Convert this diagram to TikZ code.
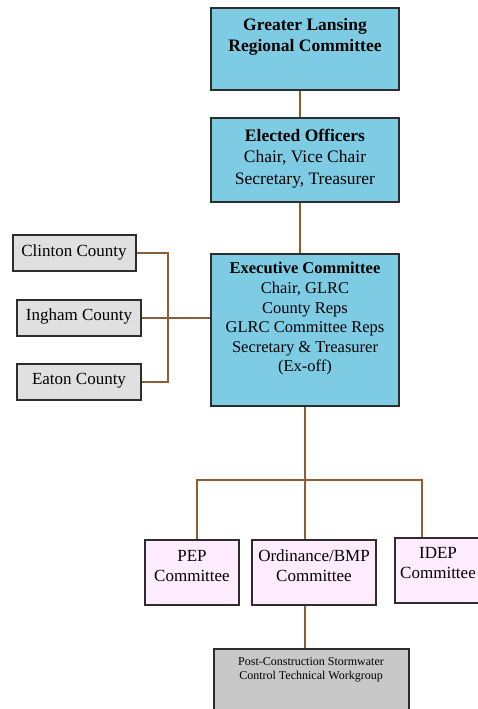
\documentclass[tikz,border=0pt]{standalone}
\usepackage{fontspec}
\setmainfont{Liberation Serif}
\usetikzlibrary{calc}
\definecolor{boxblue}{RGB}{126,204,228}
\definecolor{boxgray}{RGB}{224,224,224}
\definecolor{boxpink}{RGB}{255,236,255}
\definecolor{wggray}{RGB}{200,200,200}
\definecolor{linkbrown}{RGB}{139,94,51}
\definecolor{edgegray}{RGB}{45,45,45}
\tikzset{
  box/.style={draw=edgegray, line width=1.4pt, inner sep=0pt},
  link/.style={draw=linkbrown, line width=1.4pt},
  txt/.style={align=center, inner sep=0pt, text=black},
}
\begin{document}
\begin{tikzpicture}[x=1pt,y=-1pt]
\clip (0,0) rectangle (478,709);
\useasboundingbox (0,0) rectangle (478,709);
% boxes
\node[box, fill=boxblue, minimum width=188pt, minimum height=82pt] (glrc) at (305,49) {};
\node[box, fill=boxblue, minimum width=188pt, minimum height=84pt] (officers) at (305,160) {};
\node[box, fill=boxblue, minimum width=188pt, minimum height=152pt] (exec) at (305,330) {};
\node[box, fill=boxgray, minimum width=123pt, minimum height=36pt] (clinton) at (74.5,253) {};
\node[box, fill=boxgray, minimum width=124pt, minimum height=36pt] (ingham) at (79,318) {};
\node[box, fill=boxgray, minimum width=124pt, minimum height=36pt] (eaton) at (79,382) {};
\node[box, fill=boxpink, minimum width=94pt, minimum height=65pt] (pep) at (192,572.5) {};
\node[box, fill=boxpink, minimum width=124pt, minimum height=65pt] (ord) at (314,572.5) {};
\node[box, fill=boxpink, minimum width=86pt, minimum height=65pt] (idep) at (438,570.5) {};
\node[box, fill=wggray, minimum width=195pt, minimum height=80pt] (wg) at (311.5,689) {};
% texts
\node[txt, font=\fontsize{17.5}{21.5}\selectfont\bfseries] (glrct) at (305,37) {Greater Lansing\\Regional Committee};
\node[txt, font=\fontsize{17.5}{21.5}\selectfont] (officerst) at (305,158.5) {\textbf{Elected Officers}\\Chair, Vice Chair\\Secretary, Treasurer};
\node[txt, font=\fontsize{16.5}{19.6}\selectfont] (exect) at (305,319) {\textbf{Executive Committee}\\Chair, GLRC\\County Reps\\GLRC Committee Reps\\Secretary \& Treasurer\\(Ex-off)};
\node[txt, font=\fontsize{17}{20}\selectfont] (clintont) at (74,252) {Clinton County};
\node[txt, font=\fontsize{17}{20}\selectfont] (inghamt) at (79,316) {Ingham County};
\node[txt, font=\fontsize{17}{20}\selectfont] (eatont) at (79,381) {Eaton County};
\node[txt, font=\fontsize{17}{20}\selectfont] (pept) at (192,566) {PEP\\Committee};
\node[txt, font=\fontsize{17}{20}\selectfont] (ordt) at (314,566) {Ordinance/BMP\\Committee};
\node[txt, font=\fontsize{17}{20}\selectfont] (idept) at (438,563.5) {IDEP\\Committee};
\node[txt, font=\fontsize{12}{14}\selectfont] (wgt) at (311,670) {Post-Construction Stormwater\\Control Technical Workgroup};
% connectors
\draw[link] ($(glrc.south)+(-5,0)$) -- ($(officers.north)+(-5,0)$);
\draw[link] ($(officers.south)+(-5,0)$) -- ($(exec.north)+(-5,0)$);
\coordinate (cbus) at (168,253);
\draw[link] (clinton.east) -- (cbus) |- (eaton.east);
\draw[link] (ingham.east) -- (ingham.east -| exec.west);
\coordinate (hb) at (305,480);
\coordinate (hbL) at (197,480);
\coordinate (hbR) at (422,480);
\draw[link] (exec.south) -- (hb);
\draw[link] (hbL |- pep.north) -- (hbL) -- (hbR) -- (hbR |- idep.north);
\draw[link] (hb) -- (hb |- ord.north);
\draw[link] ($(ord.south)+(-9,0)$) -- ($(wg.north)+(-6.5,0)$);
\end{tikzpicture}
\end{document}
